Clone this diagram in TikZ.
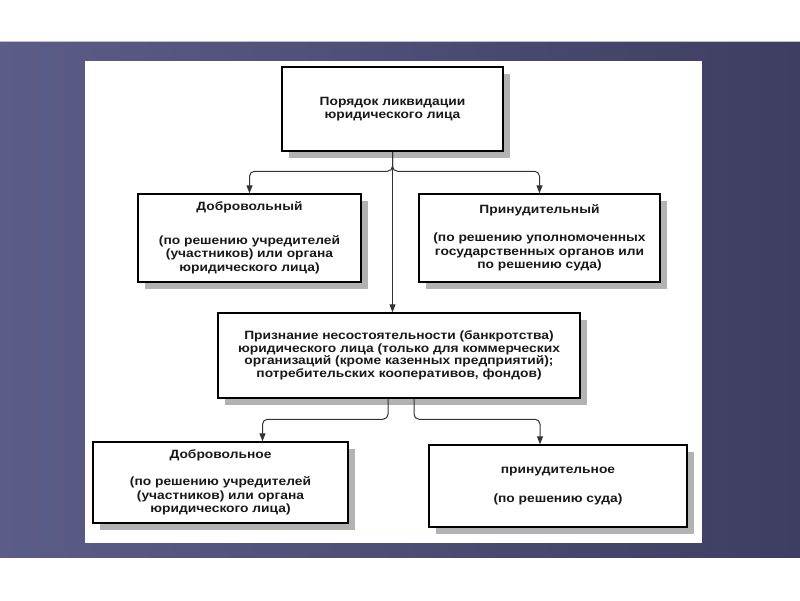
\documentclass[tikz,border=0pt]{standalone}
\usepackage{fontspec}
\setmainfont{Liberation Sans}[FakeStretch=1.15]
\usepackage{tikz, xcolor}
\usetikzlibrary{arrows.meta, shadows, patterns}

\definecolor{bandleft}{RGB}{92, 92, 136}
\definecolor{bandright}{RGB}{62, 62, 98}
\definecolor{inkgray}{RGB}{25, 25, 25}

\tikzset{
  box/.style={draw=black, line width=1.5pt, fill=white, inner sep=0pt, align=center,
    text=inkgray, font=\fontsize{12}{13.5}\selectfont\bfseries,
    drop shadow={shadow xshift=7pt, shadow yshift=-7pt, opacity=1, fill=black!30}},
  link/.style={draw=black!80, line width=1pt, rounded corners=5pt,
    -{Triangle[length=8pt, width=6pt]}}
}

\begin{document}
\begin{tikzpicture}[x=1pt, y=-1pt]
  \useasboundingbox (0, 0) rectangle (800, 600);
  \fill [white] (0, 0) rectangle (800, 600);
  \shade [left color=bandleft, right color=bandright] (0, 41) rectangle (800, 557);
  \draw [black!25] (0, 41) to (800, 41);
  \fill [white] (85, 61) rectangle (702, 543);

  \node [box, minimum width=221pt, minimum height=84pt] (top) at (392.5, 109)
    {Порядок ликвидации\\юридического лица};
  \node [box, minimum width=223pt, minimum height=88pt] (vol) at (249.5, 238)
    {Добровольный\\[20pt](по решению учредителей\\(участников) или органа\\юридического лица)};
  \node [box, minimum width=241pt, minimum height=88pt] (forc) at (539.5, 238)
    {Принудительный\\[15pt](по решению уполномоченных\\государственных органов или\\по решению суда)};
  \node [box, minimum width=362pt, minimum height=85pt,
    font=\fontsize{12}{12.5}\selectfont\bfseries] (bank) at (399, 355.5)
    {Признание несостоятельности (банкротства)\\юридического лица (только для коммерческих\\организаций (кроме казенных предприятий);\\потребительских кооперативов, фондов)};
  \node [box, minimum width=255pt, minimum height=81pt] (vol2) at (220.5, 482.5)
    {Добровольное\\[14pt](по решению учредителей\\(участников) или органа\\юридического лица)};
  \node [box, minimum width=258pt, minimum height=82pt] (forc2) at (558, 486)
    {принудительное\\[15pt](по решению суда)};

  \draw [link] (top.south) to (top.south |- bank.north);
  \draw [link] (top.south) |- ([yshift=22pt]vol.north) to (vol.north);
  \draw [link] (top.south) |- ([yshift=22pt]forc.north) to (forc.north);
  \draw [link] ([xshift=-11pt]bank.south) |- ([xshift=42pt, yshift=22pt]vol2.north)
    to ([xshift=42pt]vol2.north);
  \draw [link] ([xshift=15pt]bank.south) |- ([xshift=-18pt, yshift=25pt]forc2.north)
    to ([xshift=-18pt]forc2.north);

\end{tikzpicture}
\end{document}
